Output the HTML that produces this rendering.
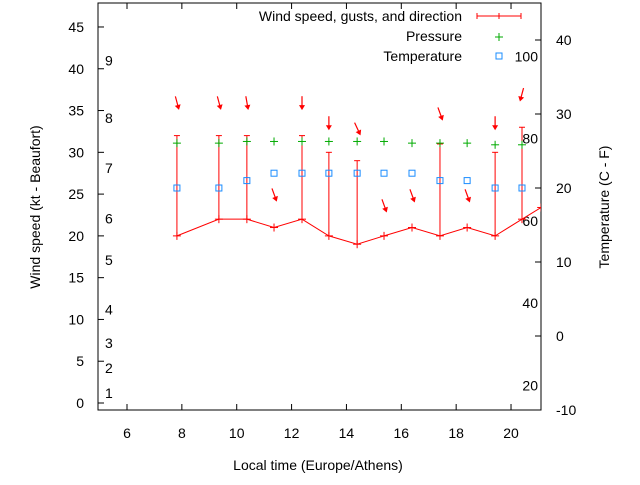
<!DOCTYPE html>
<html><head><meta charset="utf-8"><style>
body{margin:0;background:#fff;}
svg text{font-family:"Liberation Sans",sans-serif;font-size:14px;fill:#000;}
</style></head><body>
<svg id="chart" width="640" height="480" xmlns="http://www.w3.org/2000/svg"></svg>
<script>
const times=[7.82,9.35,10.37,11.36,12.38,13.36,14.39,15.37,16.39,17.41,18.4,19.42,20.4,21.1];
const windKt=[20,22,22,21,22,20,19,20,21,20,21,20,22,23.4];
const gustKt=[32,32,32,null,32,30,29,null,null,31,null,30,33,null];
const pressurePlot=[31.1,31.1,31.3,31.3,31.3,31.3,31.3,31.3,31.1,31.1,31.1,30.9,30.9];
const tempC=[20,20,21,22,22,22,22,22,22,21,21,20,20];
const arrowKt=[36,36,36,25,36,33.6,32.9,23.7,24.9,34.7,24.9,33.6,37];
const arrowDeg=[-15,-15,-10,-20,0,0,-25,-20,-20,-20,-20,0,15];
const xTicks=[6,8,10,12,14,16,18,20];
const yTicks=[0,5,10,15,20,25,30,35,40,45];
const cTicks=[-10,0,10,20,30,40];
const beaufortLabels=["1","2","3","4","5","6","7","8","9"];
const beaufortKt=[1.2,4.2,7.2,11.2,17.1,22.1,28.1,34.1,41.0];
const fLabels=["20","40","60","80","100"];

const L=98,R=541,T=3,B=410;
const X=t=>127+(t-6)*27.43;
const Y=k=>403-k*8.356;
const YC=c=>336-c*7.4;
const svg=document.getElementById('chart');
const NS='http://www.w3.org/2000/svg';
function mk(tag,attrs,parent){const e=document.createElementNS(NS,tag);for(const k in attrs)e.setAttribute(k,attrs[k]);(parent||svg).appendChild(e);return e;}

const frame=mk('rect',{x:L,y:T,width:R-L,height:B-T,fill:'none',stroke:'#000','stroke-width':1});



xTicks.forEach(v=>{const x=X(v);
 mk('line',{x1:x,y1:B,x2:x,y2:B-6,stroke:'#000'});mk('line',{x1:x,y1:T,x2:x,y2:T+6,stroke:'#000'});
 const t=mk('text',{x:x,y:438,'text-anchor':'middle'});t.textContent=v;
 
 });
yTicks.forEach(v=>{const y=Y(v);
 mk('line',{x1:L,y1:y,x2:L+6,y2:y,stroke:'#000'});
 const t=mk('text',{x:84,y:y+5,'text-anchor':'end'});t.textContent=v;
 
 });
cTicks.forEach(v=>{const y=YC(v);
 mk('line',{x1:R,y1:y,x2:R-6,y2:y,stroke:'#000'});
 const t=mk('text',{x:556,y:y+5});t.textContent=v;
 
 });
beaufortLabels.forEach((s,i)=>{const t=mk('text',{x:105,y:Y(beaufortKt[i])+5});t.textContent=s;
 
 });
fLabels.forEach(s=>{const f=+s;const c=(f-32)*5/9;const t=mk('text',{x:538,y:YC(c)+5,'text-anchor':'end'});t.textContent=s;
 
 });

const clip=mk('clipPath',{id:'pc'});mk('rect',{x:L,y:T,width:R-L,height:B-T},clip);
const g=mk('g',{'clip-path':'url(#pc)'});
const wl=mk('polyline',{points:times.map((t,i)=>X(t)+','+Y(windKt[i])).join(' '),fill:'none',stroke:'#f00'},g);


times.forEach((t,i)=>{const x=X(t),y=Y(windKt[i]);
 mk('line',{x1:x-4,y1:y,x2:x+4,y2:y,stroke:'#f00'},g);mk('line',{x1:x,y1:y-4,x2:x,y2:y+4,stroke:'#f00'},g);
 if(gustKt[i]!=null){const gy=Y(gustKt[i]);
  const gl=mk('line',{x1:x,y1:y,x2:x,y2:gy,stroke:'#f00'},g);
  
  
  mk('line',{x1:x-3,y1:gy,x2:x+3,y2:gy,stroke:'#f00'},g);}
});
arrowKt.forEach((k,i)=>{const cx=X(times[i]),cy=Y(k);const a=arrowDeg[i]*Math.PI/180;
 const dx=-Math.sin(a),dy=Math.cos(a);
 const ag=mk('g',{},g);
 
 
 const tx=cx+dx*5,ty=cy+dy*5;
 mk('line',{x1:cx-dx*6,y1:cy-dy*6,x2:tx,y2:ty,stroke:'#f00','stroke-width':1.2},ag);
 const px=-dy,py=dx;
 mk('polygon',{points:`${tx+dx*3},${ty+dy*3} ${tx-dx*2+px*3},${ty-dy*2+py*3} ${tx-dx*2-px*3},${ty-dy*2-py*3}`,fill:'#f00'},ag);
});
pressurePlot.forEach((p,i)=>{const x=X(times[i]),y=Y(p);
 const pg=mk('g',{},g);
 
 
 mk('line',{x1:x-4,y1:y,x2:x+4,y2:y,stroke:'#0a0'},pg);mk('line',{x1:x,y1:y-4,x2:x,y2:y+4,stroke:'#0a0'},pg);});
tempC.forEach((c,i)=>{const x=X(times[i]),y=YC(c);
 const r=mk('rect',{x:x-3,y:y-3,width:6,height:6,fill:'none',stroke:'#1a8cff'},g);
 
 });

function lt(txt,y,name){const t=mk('text',{x:462,y:y+5,'text-anchor':'end'});t.textContent=txt;
 
 }
lt('Wind speed, gusts, and direction',16,'legend-wind');
lt('Pressure',36,'legend-pressure');
lt('Temperature',56,'legend-temperature');
mk('line',{x1:477,y1:16,x2:521,y2:16,stroke:'#f00'});mk('line',{x1:477,y1:13,x2:477,y2:19,stroke:'#f00'});
mk('line',{x1:521,y1:13,x2:521,y2:19,stroke:'#f00'});mk('line',{x1:499,y1:13,x2:499,y2:19,stroke:'#f00'});
mk('line',{x1:495,y1:37,x2:503,y2:37,stroke:'#0a0'});mk('line',{x1:499,y1:33,x2:499,y2:41,stroke:'#0a0'});
mk('rect',{x:496,y:53,width:6,height:6,fill:'none',stroke:'#1a8cff'});

const xt=mk('text',{x:318,y:470,'text-anchor':'middle'});xt.textContent='Local time (Europe/Athens)';


const yt=mk('text',{x:0,y:0,'text-anchor':'middle',transform:'translate(40,207) rotate(-90)'});yt.textContent='Wind speed (kt - Beaufort)';


const y2=mk('text',{x:0,y:0,'text-anchor':'middle',transform:'translate(609,207) rotate(-90)'});y2.textContent='Temperature (C - F)';


</script>
</body></html>
